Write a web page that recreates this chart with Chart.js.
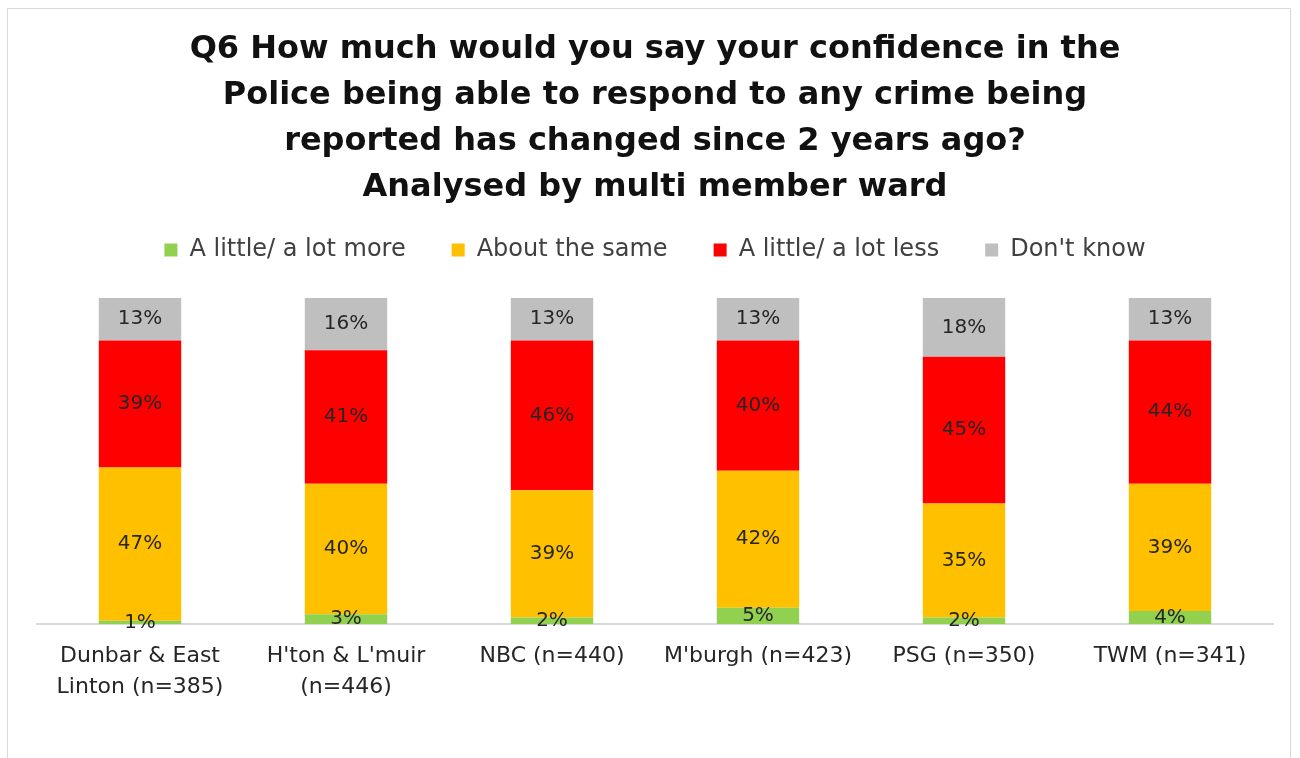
<!DOCTYPE html>
<html>
<head>
<meta charset="utf-8">
<script src="https://cdn.jsdelivr.net/npm/chart.js@4.4.1/dist/chart.umd.min.js"></script>
<style>
  html,body{margin:0;padding:0;background:#fff;overflow:hidden;}
  #frame{position:absolute;left:7px;top:8px;width:1284px;height:770px;border:1px solid #d9d9d9;box-sizing:border-box;}
  #wrap{position:absolute;left:0;top:0;width:1300px;height:758px;}
</style>
</head>
<body>
<div id="frame"></div>
<div id="wrap"><canvas id="c"></canvas></div>
<script>
const wards = [['Dunbar & East', 'Linton (n=385)'], ["H'ton & L'muir", '(n=446)'], 'NBC (n=440)', "M'burgh (n=423)", 'PSG (n=350)', 'TWM (n=341)'];
const more   = [1, 3, 2, 5, 2, 4];
const same   = [47, 40, 39, 42, 35, 39];
const less   = [39, 41, 46, 40, 45, 44];
const dunno  = [13, 16, 13, 13, 18, 13];
const seriesNames = ['A little/ a lot more', 'About the same', 'A little/ a lot less', "Don't know"];
const titleLines = ['Q6 How much would you say your confidence in the', 'Police being able to respond to any crime being', 'reported has changed since 2 years ago?', 'Analysed by multi member ward'];

const FONT = "'DejaVu Sans', sans-serif";

// value labels in the middle of each segment
const segLabels = {
  id: 'segLabels',
  afterDatasetsDraw(chart){
    const ctx = chart.ctx;
    ctx.save();
    ctx.font = '20px ' + FONT;
    ctx.fillStyle = '#262626';
    ctx.textAlign = 'center';
    ctx.textBaseline = 'middle';
    chart.data.datasets.forEach((ds, i) => {
      chart.getDatasetMeta(i).data.forEach((el, j) => {
        ctx.fillText(ds.data[j] + '%', el.x, (el.y + el.base) / 2);
      });
    });
    ctx.restore();
  }
};
// a bit of room between legend and bars
const legendGap = {
  id: 'legendGap',
  beforeInit(chart){
    const fit = chart.legend.fit;
    chart.legend.fit = function(){ fit.call(this); this.height += 26; };
  }
};

new Chart(document.getElementById('c'), {
  type: 'bar',
  data: {
    labels: wards,
    datasets: [
      { label: seriesNames[0], data: more,  backgroundColor: '#92d050' },
      { label: seriesNames[1], data: same,  backgroundColor: '#ffc000' },
      { label: seriesNames[2], data: less,  backgroundColor: '#ff0000' },
      { label: seriesNames[3], data: dunno, backgroundColor: '#bfbfbf' }
    ]
  },
  options: {
    responsive: true,
    maintainAspectRatio: false,
    animation: false,
    datasets: { bar: { categoryPercentage: 1, barPercentage: 0.4 } },
    layout: { padding: { left: 37, right: 27, top: 0, bottom: 46 } },
    plugins: {
      title: { display: true, text: titleLines, color: '#111', font: { family: FONT, size: 32, weight: 'bold', lineHeight: 46/32 }, padding: { top: 27, bottom: -19 } },
      legend: { position: 'top', labels: { color: '#404040', font: { family: FONT, size: 24 }, boxWidth: 13, boxHeight: 13, padding: 46 } },
      tooltip: { enabled: false }
    },
    scales: {
      x: { stacked: true, grid: { display: false }, border: { color: '#d9d9d9', width: 2 },
           ticks: { color: '#262626', font: { family: FONT, size: 22, lineHeight: 31/22 }, padding: 9, maxRotation: 0 } },
      y: { stacked: true, display: false, min: 0, max: 100 }
    }
  },
  plugins: [segLabels, legendGap]
});
</script>
</body>
</html>
